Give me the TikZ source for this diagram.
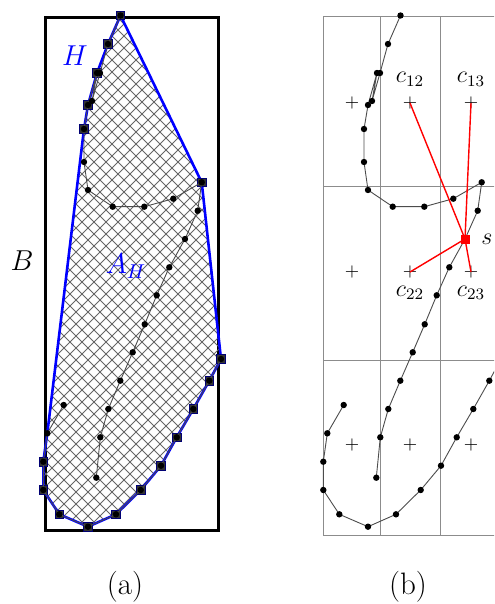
\documentclass[tikz,border=0pt]{standalone}
\usepackage{tikz}
\usetikzlibrary{positioning}
\tikzset{
    frame/.style={draw, line width=1.8pt},
    hull/.style={draw=blue, line width=1.3pt, line join=round},
    hatch/.style={draw=black!60, line width=0.4pt},
    trackline/.style={draw=black!70, line width=0.45pt},
    dot/.style={circle, fill=black, inner sep=0pt, minimum size=3.2pt},
    hullpt/.style={rectangle, fill=black!80, draw=blue!45!black, line width=0.4pt, inner sep=0pt, minimum size=4.2pt},
    gridline/.style={draw=black!45, line width=0.7pt},
    cell/.style={inner sep=0pt, font=\small},
    clab/.style={inner sep=0pt, font=\large},
    redline/.style={draw=red, line width=0.7pt},
    sample/.style={rectangle, fill=red, inner sep=0pt, minimum size=4.5pt},
    caption/.style={font=\fontsize{15.5}{18}\selectfont},
}
% tracks, panel (a) coordinates
\newcommand{\trackone}{120.5/15.5, 108/44, 100/73, 92/101, 97/73, 88/105, 84/129, 84/162, 88/190, 112.7/206.7, 144.3/206.7, 173.3/198.7, 201.7/182.3, 197.7/210.7, 185/239, 169.3/267.3, 156.7/295.3, 144.7/324.3, 132.7/352.3, 120.3/380.7, 108.3/409, 100.3/437.3, 96.3/477.7}
\newcommand{\tracktwo}{63.7/405, 47.3/433.3, 43.3/461.7, 43.3/490, 59.3/514.3, 88/526.7, 116/514.3, 140.7/490, 161/465.7, 176.7/437.3, 193.3/409, 209.3/380.7, 221/359}
\newcommand{\settracks}{%
    \foreach \x/\y [count=\i] in \trackone {\coordinate (t\i) at (\x,\y);}
    \foreach \x/\y [count=\i] in \tracktwo {\coordinate (u\i) at (\x,\y);}
}
\newcommand{\drawtracks}{%
    \draw[trackline] (t1) \foreach \i in {2,...,23} {-- (t\i)};
    \draw[trackline] (u1) \foreach \i in {2,...,13} {-- (u\i)};
    \foreach \i in {1,...,23} \node[dot] (dt\i) at (t\i) {};
    \foreach \i in {1,...,13} \node[dot] (du\i) at (u\i) {};
}
\begin{document}
\begin{tikzpicture}[x=0.5pt, y=-0.5pt]

    \useasboundingbox (0,0) rectangle (494,604);

    % (a) hull of the tracks
    \draw[frame] (45.5,17.5) rectangle (218.5,530.5);
    \begin{scope}[name prefix=a-]
        \settracks
        \begin{scope}
            \clip (t1) -- (t2) -- (t5) -- (t6) -- (t7) \foreach \i in {2,...,13} {-- (u\i)} -- (t13) -- cycle;
            \foreach \k in {-500,-488,...,232} \draw[hatch] (\k,0) -- ++(600,600);
            \foreach \k in {40,52,...,760} \draw[hatch] (\k,0) -- ++(-600,600);
        \end{scope}
        \draw[hull] (t1) -- (t2) -- (t5) -- (t6) -- (t7) \foreach \i in {2,...,13} {-- (u\i)} -- (t13) -- cycle;
        \foreach \p in {t1,t2,t5,t6,t7,t13,u3,u4,u5,u6,u7,u8,u9,u10,u11,u12,u13}
            \node[hullpt] (sq\p) at (\p) {};
        \drawtracks
    \end{scope}

    \node[blue, font=\Large] (hlab) at (75,56) {$H$};
    \node[blue, font=\Large] (alab) at (126,266) {$A_H$};
    \node[font=\Large] (blab) at (22,261) {$B$};
    \node[caption] (capa) at (125,587) {(a)};

    % (b) grid cells
    \begin{scope}
        \clip (300,0) rectangle (494,604);
        \draw[gridline] (323.5,16.5) rectangle (501.5,535.5);
        \foreach \gx in {380.5,440.5} \draw[gridline] (\gx,16.5) -- (\gx,535.5);
        \foreach \gy in {186.5,360.5} \draw[gridline] (323.5,\gy) -- (501.5,\gy);
        \foreach \cx/\col in {352/1,410/2,471/3}
            \foreach \cy/\row in {103/1,272/2,445/3}
                \node[cell] (c\row\col) at (\cx,\cy) {$+$};
        \begin{scope}[shift={(280,0)}, name prefix=b-]
            \settracks
            \drawtracks
        \end{scope}
        \node[sample] (s) at (b-t15) {};
        \foreach \c in {c12,c13,c22,c23}
            \draw[redline] (s.center) -- (\c.center);
        \node[sample] (s) at (b-t15) {};
    \end{scope}

    \node[clab, above=5pt of c12] (l12) {$c_{12}$};
    \node[clab, above=5pt of c13] (l13) {$c_{13}$};
    \node[clab, below=3.5pt of c22] (l22) {$c_{22}$};
    \node[clab, below=3.5pt of c23] (l23) {$c_{23}$};
    \node[clab, right=5.5pt of s] (slab) {$s$};
    \node[caption] (capb) at (408,587) {(b)};

\end{tikzpicture}
\end{document}
